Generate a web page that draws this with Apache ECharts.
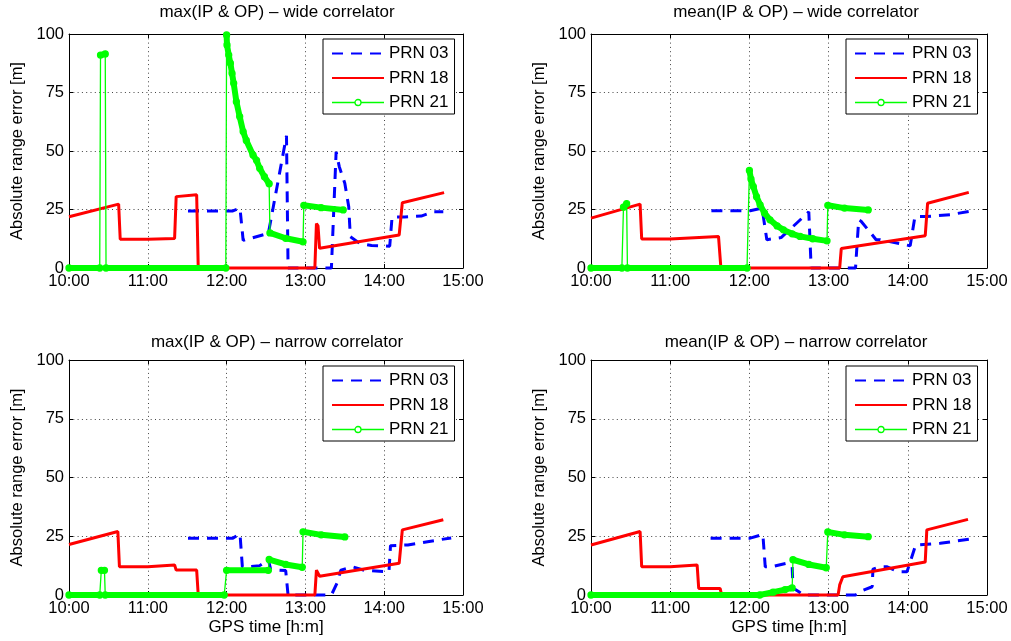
<!DOCTYPE html>
<html>
<head>
<meta charset="utf-8">
<title>Absolute range error</title>
<script src="https://cdn.jsdelivr.net/npm/echarts@6/dist/echarts.min.js"></script>
<style>
  html, body { margin: 0; padding: 0; background: #fff; }
  #chart { width: 1011px; height: 641px; }
</style>
</head>
<body>
<div id="chart"></div>
<script>
// x: GPS time in decimal hours, y: absolute range error [m]
const timeTickLabels = ['10:00', '11:00', '12:00', '13:00', '14:00', '15:00'];
const errorTicks = [0, 25, 50, 75, 100];
const prnNames = ['PRN 03', 'PRN 18', 'PRN 21'];
const panelTitles = [
  'max(IP & OP) – wide correlator',
  'mean(IP & OP) – wide correlator',
  'max(IP & OP) – narrow correlator',
  'mean(IP & OP) – narrow correlator',
];

// max, wide correlator
const maxWidePrn03 = [[11.51, 24.4], [12.08, 24.4], [12.17, 25.6], [12.21, 11.8], [12.53, 14.8], [12.76, 56.5], [12.78, 0],
  [13.33, 0], [13.39, 49.7], [13.43, 43.3], [13.5, 36.2], [13.55, 26.2], [13.57, 13.4], [13.69, 10.5], [13.84, 9.6],
  [14.07, 9.3], [14.1, 21.8], [14.26, 21.8], [14.47, 22.2], [14.62, 24], [14.75, 24]];
const maxWidePrn18 = [[10, 21.9], [10.63, 27.3], [10.65, 12.3], [11.0, 12.3], [11.02, 12.6], [11.34, 12.6], [11.36, 30.5],
  [11.62, 31.3], [11.64, 0], [13.12, 0], [13.14, 19], [13.16, 18], [13.18, 8.4], [14.19, 14.1], [14.23, 27.9], [14.76, 32.2]];
// PRN 21 comes in runs of densely sampled epochs
const maxWidePrn21 = [
  [[10, 0], [10.39, 0]],
  [[10.4, 91], [10.46, 91.5]],
  [[10.47, 0], [11.99, 0]],
  [[12.0, 99.6], [12.005, 95.3], [12.027, 91], [12.048, 87.5], [12.069, 83.2], [12.09, 78.9], [12.124, 71.1],
    [12.166, 64.7], [12.21, 58.3], [12.25, 54.5], [12.335, 48.3], [12.38, 46], [12.42, 42.6], [12.48, 39], [12.54, 36]],
  [[12.55, 15], [12.75, 12.7], [12.97, 11.2]],
  [[12.98, 26.8], [13.2, 25.8], [13.48, 24.8]],
];

// mean, wide correlator
const meanWidePrn03 = [[11.52, 24.5], [12.01, 24.5], [12.16, 25.6], [12.22, 12.1], [12.4, 13], [12.75, 24], [12.78, 0],
  [13.34, 0], [13.38, 20.6], [13.41, 20], [13.6, 12.1], [13.65, 12.1], [14.03, 9.5], [14.09, 22], [14.24, 22],
  [14.54, 22.8], [14.83, 24.5]];
const meanWidePrn18 = [[10, 21.3], [10.62, 27.3], [10.64, 12.4], [11.0, 12.4], [11.02, 12.9], [11.61, 13.5], [11.64, 0],
  [13.14, 0], [13.16, 8.3], [14.22, 13.8], [14.25, 27.7], [14.77, 32.3]];
const meanWidePrn21 = [
  [[10, 0], [10.39, 0]],
  [[10.41, 26], [10.45, 27.5]],
  [[10.46, 0], [11.97, 0]],
  [[12.0, 41.7], [12.02, 38], [12.05, 34.8], [12.09, 30.5], [12.135, 27], [12.19, 23.5], [12.26, 20.6], [12.35, 18],
    [12.43, 16.3], [12.54, 14.6], [12.64, 13.5], [12.8, 12.5], [12.98, 11.6]],
  [[12.99, 26.8], [13.2, 25.6], [13.5, 24.8]],
];

// max, narrow correlator
const maxNarrowPrn03 = [[11.51, 24.2], [12.08, 24.2], [12.17, 26], [12.2, 12], [12.27, 12], [12.42, 12.5], [12.53, 15],
  [12.56, 10.8], [12.75, 10.4], [12.78, 0], [13.33, 0], [13.4, 5], [13.45, 10.6], [13.6, 12], [13.75, 10.5],
  [14.06, 9.8], [14.08, 21], [14.3, 21.3], [14.55, 22.7], [14.85, 24.3]];
const maxNarrowPrn18 = [[10, 21.5], [10.62, 27], [10.64, 12], [11.0, 12], [11.02, 12.8], [11.34, 12.8], [11.36, 10.6],
  [11.62, 10.6], [11.64, 0], [13.12, 0], [13.14, 10.6], [13.18, 8], [14.19, 13.5], [14.23, 27.7], [14.75, 32]];
const maxNarrowPrn21 = [
  [[10, 0], [10.39, 0]],
  [[10.41, 10.5], [10.45, 10.5]],
  [[10.46, 0], [11.97, 0]],
  [[12.0, 10.5], [12.53, 10.5]],
  [[12.54, 15.1], [12.75, 13], [12.96, 11.8]],
  [[12.97, 26.9], [13.2, 25.6], [13.5, 24.7]],
];

// mean, narrow correlator
const meanNarrowPrn03 = [[11.51, 24.2], [12.01, 24.2], [12.17, 25.8], [12.2, 12], [12.28, 12], [12.47, 13.5],
  [12.54, 12], [12.55, 3], [12.62, 1.5], [12.68, 0], [13.34, 0], [13.44, 2.1], [13.55, 3.5], [13.56, 11],
  [13.65, 12], [13.74, 12], [13.88, 9.9], [13.99, 9.9], [14.1, 21.3], [14.41, 22], [14.62, 23], [14.86, 24.1]];
const meanNarrowPrn18 = [[10, 21.3], [10.62, 27], [10.64, 12], [11.0, 12], [11.02, 12.8], [11.34, 12.8], [11.36, 2.8],
  [11.63, 2.8], [11.65, 0], [13.12, 0], [13.14, 4.3], [13.18, 7.8], [14.22, 14], [14.24, 27.7], [14.76, 32.2]];
const meanNarrowPrn21 = [
  [[10, 0], [12.13, 0], [12.3, 1.2], [12.45, 2.3], [12.54, 3]],
  [[12.55, 15], [12.75, 13], [12.97, 11.6]],
  [[12.99, 26.8], [13.2, 25.6], [13.5, 24.8]],
];

const panelData = [
  [maxWidePrn03, maxWidePrn18, maxWidePrn21],
  [meanWidePrn03, meanWidePrn18, meanWidePrn21],
  [maxNarrowPrn03, maxNarrowPrn18, maxNarrowPrn21],
  [meanNarrowPrn03, meanNarrowPrn18, meanNarrowPrn21],
];

const fontFamily = '"Liberation Sans", Arial, Helvetica, sans-serif';
const blue = '#0000ff';
const red = '#ff0000';
const green = '#00ff00';

const grids = [
  { left: 69, top: 34, width: 394, height: 234 },
  { left: 591, top: 34, width: 396, height: 234 },
  { left: 69, top: 360, width: 394, height: 235 },
  { left: 591, top: 360, width: 396, height: 235 },
];
const titleCenters = [[277, 4], [796, 4], [277, 334], [796, 334]];
const legendSpots = [[323, 39], [846, 39], [323, 366], [846, 366]];

const chartDom = document.getElementById('chart');
const myChart = echarts.init(chartDom);

const black = { color: '#000', width: 1 };
const gridDots = { color: '#444', width: 1, type: [1, 3.3] };
const xAxes = [];
const yAxes = [];
const series = [];

grids.forEach((g, i) => {
  xAxes.push({
    type: 'value', gridIndex: i, position: 'bottom',
    min: 10, max: 15, interval: 1,
    axisLine: { onZero: false, lineStyle: black },
    axisTick: { inside: true, length: 4, lineStyle: black },
    axisLabel: {
      color: '#000', fontSize: 16.5, fontFamily, margin: 5,
      formatter: (v) => timeTickLabels[Math.round(v - 10)],
    },
    splitLine: { show: true, lineStyle: gridDots },
    name: i >= 2 ? 'GPS time [h:m]' : '',
    nameLocation: 'middle', nameGap: 24,
    nameTextStyle: { color: '#000', fontSize: 17, fontFamily },
  });
  xAxes.push({
    type: 'value', gridIndex: i, position: 'top',
    min: 10, max: 15, interval: 1,
    axisLine: { onZero: false, lineStyle: black },
    axisTick: { inside: true, length: 4, lineStyle: black },
    axisLabel: { show: false },
    splitLine: { show: false },
  });
  yAxes.push({
    type: 'value', gridIndex: i, position: 'left',
    min: errorTicks[0], max: errorTicks[errorTicks.length - 1], interval: 25,
    axisLine: { onZero: false, lineStyle: black },
    axisTick: { inside: true, length: 4, lineStyle: black },
    axisLabel: { color: '#000', fontSize: 16.5, fontFamily, margin: 5 },
    splitLine: { show: true, lineStyle: gridDots },
    name: 'Absolute range error [m]',
    nameLocation: 'middle', nameGap: 43,
    nameTextStyle: { color: '#000', fontSize: 16.5, fontFamily },
  });
  yAxes.push({
    type: 'value', gridIndex: i, position: 'right',
    min: errorTicks[0], max: errorTicks[errorTicks.length - 1], interval: 25,
    axisLine: { onZero: false, lineStyle: black },
    axisTick: { inside: true, length: 4, lineStyle: black },
    axisLabel: { show: false },
    splitLine: { show: false },
  });

  const [prn03, prn18, prn21] = panelData[i];
  const common = { type: 'line', xAxisIndex: 2 * i, yAxisIndex: 2 * i, clip: false, animation: false };

  series.push({
    ...common, name: prnNames[0], data: prn03, symbol: 'none', z: 2,
    itemStyle: { color: blue },
    lineStyle: { color: blue, width: 3, type: [11, 8] },
  });
  series.push({
    ...common, name: prnNames[1], data: prn18, symbol: 'none', z: 3,
    itemStyle: { color: red },
    lineStyle: { color: red, width: 3 },
  });
  // dense epochs: the overlapping markers form a thick band
  const bandData = [];
  prn21.forEach((run, k) => {
    if (k > 0) bandData.push([run[0][0], '-']);
    run.forEach((p) => bandData.push(p));
  });
  series.push({
    ...common, name: 'PRN 21 epochs', data: bandData, symbol: 'none', z: 4, silent: true,
    connectNulls: false,
    lineStyle: { color: green, width: 6, cap: 'round', join: 'round' },
  });
  series.push({
    ...common, name: prnNames[2], data: prn21.flat(), z: 5,
    symbol: 'circle', symbolSize: 6, showAllSymbol: true,
    itemStyle: { color: 'rgba(0,0,0,0)', borderColor: green, borderWidth: 1.3 },
    lineStyle: { color: green, width: 1.3 },
  });
});

const option = {
  backgroundColor: '#fff',
  animation: false,
  title: panelTitles.map((t, i) => ({
    text: t,
    left: titleCenters[i][0],
    top: titleCenters[i][1],
    textAlign: 'center',
    padding: 0,
    textStyle: { color: '#000', fontSize: 17, fontWeight: 'normal', fontFamily },
  })),
  grid: grids.map((g) => ({ ...g, containLabel: false })),
  legend: legendSpots.map(([x, y]) => ({
    data: [
      { name: prnNames[0], itemStyle: { opacity: 0 } },
      { name: prnNames[1], itemStyle: { opacity: 0 } },
      {
        name: prnNames[2],
        itemStyle: { color: '#fff', borderColor: green, borderWidth: 1.3 },
        lineStyle: { color: green, width: 1.5 },
      },
    ],
    orient: 'vertical',
    left: x, top: y,
    itemWidth: 52, itemHeight: 7.5, itemGap: 7.5,
    padding: [6, 6, 3, 8],
    borderColor: '#000', borderWidth: 1, borderRadius: 0,
    backgroundColor: '#fff',
    selectedMode: false,
    textStyle: { color: '#000', fontSize: 17, fontFamily },
  })),
  xAxis: xAxes,
  yAxis: yAxes,
  series,
};
myChart.setOption(option);

window.addEventListener('resize', () => {
  myChart.resize();
});
</script>
</body>
</html>
